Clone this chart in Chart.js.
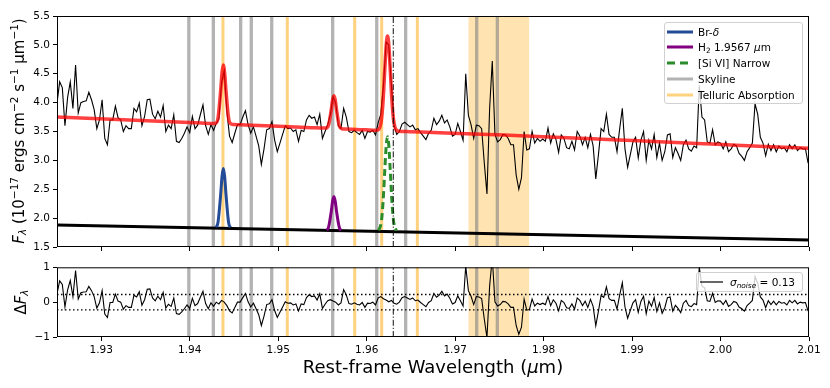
<!DOCTYPE html>
<html>
<head>
<meta charset="utf-8">
<script src="https://cdn.jsdelivr.net/npm/chart.js@4.4.0/dist/chart.umd.min.js"></script>
<style>
  body { margin: 0; background: #fff; }
  #wrap { position: relative; width: 830px; height: 388px; font-family: "DejaVu Sans", sans-serif; color: #000; overflow: hidden; }
  canvas { position: absolute; left: 0; }
  sub, sup { font-size: 0.7em; line-height: 0; }
  sub { vertical-align: -0.28em; }
  sup { vertical-align: 0.5em; }
  .ytitle { position: absolute; white-space: nowrap; transform: translate(-50%, -50%) rotate(-90deg); line-height: 1; }
  .legend { position: absolute; box-sizing: border-box; border: 1px solid #d0d0d0; border-radius: 3px; background: rgba(255,255,255,0.8); font-size: 10.5px; }
  .row { position: absolute; left: 0; height: 14px; display: flex; align-items: center; white-space: nowrap; }
  .row svg { position: absolute; left: 2px; top: 4px; }
  .row span { position: absolute; left: 33px; top: 0; line-height: 14px; }
</style>
</head>
<body>
<div id="wrap">
  <canvas id="topChart" width="830" height="258" style="top:0px"></canvas>
  <canvas id="botChart" width="830" height="130" style="top:258px"></canvas>

  <div class="ytitle" style="left:19px; top:131px; font-size:15px;"><i>F</i><sub><i>λ</i></sub> (10<sup>−17</sup> ergs cm<sup>−2</sup> s<sup>−1</sup> μm<sup>−1</sup>)</div>
  <div class="ytitle" style="left:21px; top:302px; font-size:15px;">Δ<i>F</i><sub><i>λ</i></sub></div>
  <div style="position:absolute; left:57px; width:752px; top:358px; text-align:center; font-size:18px; line-height:18px; white-space:nowrap;">Rest-frame Wavelength (<i>μ</i>m)</div>

  <div class="legend" style="left:664px; top:22px; width:139px; height:82px;">
    <div class="row" style="top:2px;"><svg width="26" height="6"><line x1="0" y1="3" x2="26" y2="3" stroke="#234b96" stroke-width="3"/></svg><span>Br-<i>δ</i></span></div>
    <div class="row" style="top:17px;"><svg width="26" height="6"><line x1="0" y1="3" x2="26" y2="3" stroke="#800080" stroke-width="3"/></svg><span>H<sub>2</sub> 1.9567 <i>μ</i>m</span></div>
    <div class="row" style="top:33px;"><svg width="26" height="6"><line x1="0" y1="3" x2="26" y2="3" stroke="#2a8c2a" stroke-width="3" stroke-dasharray="8,5"/></svg><span>[Si VI] Narrow</span></div>
    <div class="row" style="top:49px;"><svg width="26" height="6"><line x1="0" y1="3" x2="26" y2="3" stroke="rgba(128,128,128,0.6)" stroke-width="3"/></svg><span>Skyline</span></div>
    <div class="row" style="top:65px;"><svg width="26" height="6"><line x1="0" y1="3" x2="26" y2="3" stroke="rgba(255,165,0,0.5)" stroke-width="3"/></svg><span>Telluric Absorption</span></div>
  </div>

  <div class="legend" style="left:696px; top:272px; width:107px; height:20px;">
    <div class="row" style="top:2px;"><svg width="26" height="6" style="left:3px"><line x1="0" y1="3" x2="23" y2="3" stroke="#000" stroke-width="1.2"/></svg><span style="left:33px"><i>σ</i><sub><i>noise</i></sub> = 0.13</span></div>
  </div>
</div>

<script>
// ---------------- data ----------------
const WAVE_START = 1.925;     // first wavelength of the spectrum grid (micron)
const WAVE_STEP = 0.0003;     // spectral pixel size (micron)

// observed spectrum (1e-17 erg/cm2/s/um)
const flux = [
  3.99,4.36,4.26,3.6,4.09,4.36,3.9,4.65,3.82,4.0,
  4.02,4.03,4.18,4.05,3.88,3.55,3.7,4.05,3.38,3.27,
  3.7,3.7,3.94,3.74,3.7,3.5,3.6,3.55,3.55,3.9,
  3.84,3.99,3.6,3.76,4.05,4.06,3.8,3.72,3.85,3.75,
  3.95,3.5,3.61,3.55,3.79,3.33,3.31,3.38,3.47,3.58,
  3.48,3.76,3.55,3.61,3.79,3.96,3.6,3.45,3.62,3.52,
  3.64,3.72,4.35,4.55,3.85,3.42,3.31,3.47,3.62,3.62,
  3.75,3.86,3.62,3.47,3.58,3.42,3.25,2.93,3.2,3.53,
  3.55,3.67,3.35,3.15,3.3,3.45,3.6,3.55,3.56,3.5,
  3.53,3.33,3.52,3.5,3.7,3.78,3.73,3.75,3.62,3.8,
  3.38,3.5,3.62,3.8,4.1,4.0,3.6,3.55,3.9,3.75,
  3.5,3.48,3.52,3.48,3.45,3.52,3.38,3.5,3.49,3.52,
  3.44,3.65,3.8,4.3,5.05,5.0,4.3,3.6,3.45,3.5,
  3.63,3.66,3.62,3.58,3.61,3.53,3.55,3.48,3.42,3.36,
  3.47,3.52,3.73,3.62,3.68,3.78,3.65,3.7,3.58,3.42,
  3.45,3.64,3.5,3.35,4.5,3.78,3.62,3.38,3.61,3.6,
  3.55,2.95,2.42,3.9,4.72,3.45,3.32,3.36,3.45,3.44,
  3.38,3.27,3.27,2.75,2.5,2.7,3.5,3.18,3.2,3.5,
  3.3,3.38,3.33,3.37,3.33,3.56,3.3,3.46,3.36,3.14,
  3.44,3.38,3.22,3.2,3.33,3.18,3.5,3.42,3.27,3.4,
  3.22,3.45,3.25,2.68,3.1,3.55,3.5,3.8,3.45,3.4,
  3.4,3.15,3.55,3.9,3.2,2.88,3.1,3.32,3.4,3.04,
  3.35,3.5,3.0,3.35,3.2,3.45,3.05,3.3,3.0,3.15,
  3.44,3.46,3.05,3.22,3.12,3.0,3.27,3.35,3.2,3.16,
  3.25,3.22,4.3,3.75,3.7,3.32,3.3,3.53,3.27,3.32,
  3.3,3.2,3.32,3.15,3.2,3.28,3.25,3.12,3.07,3.0,
  3.15,3.22,3.3,3.98,3.8,3.4,3.3,3.08,3.28,3.17,
  3.27,3.15,3.25,3.2,3.22,3.15,3.27,3.2,3.27,3.17,
  3.22,3.2,3.2,2.95
];

// residuals (data - model) on the same grid
const resid = [
  0.24,0.61,0.51,-0.14,0.35,0.62,0.16,0.91,0.09,0.27,
  0.29,0.30,0.45,0.33,0.16,-0.17,-0.02,0.33,-0.34,-0.44,
  -0.01,-0.01,0.23,0.03,0.0,-0.2,-0.1,-0.15,-0.15,0.2,
  0.15,0.3,-0.09,0.07,0.37,0.38,0.12,0.04,0.17,0.07,
  0.28,-0.17,-0.06,-0.12,0.12,-0.33,-0.35,-0.28,-0.19,-0.08,
  -0.18,0.11,-0.1,-0.04,0.14,0.31,-0.04,-0.19,-0.02,-0.12,
  0.0,-0.05,0.05,0.0,-0.1,-0.25,-0.31,-0.15,0.0,0.0,
  0.13,0.25,0.01,-0.14,-0.03,-0.19,-0.36,-0.67,-0.4,-0.07,
  -0.05,0.07,-0.24,-0.44,-0.29,-0.14,0.01,-0.03,-0.02,-0.08,
  -0.05,-0.25,-0.05,-0.07,0.13,0.21,0.16,0.18,0.06,0.24,
  -0.18,-0.06,0.04,0.07,0.03,0.0,-0.08,-0.02,0.36,0.21,
  -0.04,-0.06,-0.02,-0.06,-0.08,-0.01,-0.15,-0.03,-0.04,0.0,
  -0.08,0.12,0.16,0.1,0.06,0.01,0.05,-0.03,-0.06,0.0,
  0.13,0.16,0.12,0.08,0.12,0.04,0.06,-0.01,-0.07,-0.13,
  -0.01,0.04,0.25,0.14,0.2,0.31,0.18,0.23,0.11,-0.05,
  -0.01,0.18,0.04,-0.11,1.04,0.33,0.17,-0.07,0.16,0.15,
  0.1,-0.49,-1.02,0.46,1.28,0.01,-0.11,-0.07,0.02,0.01,
  -0.05,-0.15,-0.15,-0.67,-0.92,-0.72,0.09,-0.23,-0.21,0.09,
  -0.11,-0.03,-0.07,-0.03,-0.07,0.16,-0.1,0.07,-0.03,-0.25,
  0.05,-0.01,-0.16,-0.18,-0.05,-0.2,0.12,0.05,-0.1,0.03,
  -0.15,0.08,-0.12,-0.68,-0.26,0.19,0.14,0.44,0.1,0.05,
  0.05,-0.2,0.2,0.56,-0.14,-0.46,-0.24,-0.02,0.07,-0.29,
  0.02,0.17,-0.33,0.03,-0.12,0.13,-0.27,-0.02,-0.32,-0.16,
  0.13,0.15,-0.26,-0.09,-0.18,-0.3,-0.03,0.05,-0.1,-0.13,
  -0.04,-0.07,1.0,0.46,0.41,0.04,0.02,0.25,-0.01,0.04,
  0.03,-0.07,0.05,-0.12,-0.07,0.02,-0.01,-0.14,-0.19,-0.26,
  -0.1,-0.03,0.05,0.73,0.55,0.15,0.06,-0.16,0.04,-0.07,
  0.03,-0.08,0.02,-0.03,-0.01,-0.08,0.05,-0.02,0.05,-0.05,
  0.0,-0.02,-0.01,-0.26
];

// total model (red)
const modelWave = [1.925,
  1.9413, 1.9426, 1.9429, 1.9432, 1.9435, 1.94365, 1.9438, 1.94395, 1.9441, 1.9444, 1.9447, 1.9450, 1.9463,
  1.9538, 1.9551, 1.9554, 1.9557, 1.9560, 1.95615, 1.9563, 1.95645, 1.9566, 1.9569, 1.9572, 1.9575, 1.9588,
  1.95986, 1.96106, 1.96136, 1.96166, 1.96186, 1.96206, 1.96221, 1.96236, 1.96251, 1.96266, 1.96286, 1.96306, 1.96336, 1.96366, 1.96486,
  2.01];
const modelFlux = [3.75,
  3.646, 3.638, 3.642, 3.734, 4.206, 4.514, 4.650, 4.512, 4.202, 3.726, 3.630, 3.622, 3.614,
  3.567, 3.559, 3.560, 3.612, 3.873, 4.046, 4.121, 4.044, 3.869, 3.604, 3.548, 3.543, 3.535,
  3.5285, 3.521, 3.536, 3.689, 4.036, 4.601, 4.993, 5.153, 4.991, 4.597, 4.030, 3.680, 3.523, 3.504, 3.497,
  3.21];

// continuum component (black)
const contWave = [1.925, 2.01];
const contFlux = [1.88, 1.62];

// line components
const brdWave = [1.9430, 1.9432, 1.9435, 1.94365, 1.9438, 1.94395, 1.9441, 1.9444, 1.9446];
const brdFlux = [1.84, 1.93, 2.41, 2.72, 2.86, 2.72, 2.41, 1.92, 1.84];
const h2Wave = [1.9555, 1.9557, 1.9560, 1.95615, 1.9563, 1.95645, 1.9566, 1.9569, 1.9571];
const h2Flux = [1.79, 1.845, 2.115, 2.29, 2.374, 2.29, 2.113, 1.843, 1.785];
const siviWave = [1.96136, 1.96166, 1.96186, 1.96206, 1.96221, 1.96236, 1.96251, 1.96266, 1.96286, 1.96306, 1.96336];
const siviFlux = [1.785, 1.94, 2.29, 2.86, 3.25, 3.41, 3.25, 2.85, 2.28, 1.93, 1.78];

// markers
const skylines = [1.9399, 1.94267, 1.94576, 1.94696, 1.94927, 1.95616, 1.96114, 1.96441, 1.97244, 1.97477];
const telluricLines = [1.94376, 1.95103, 1.95865, 1.9617, 1.96573];
const telluricBand = [1.97149, 1.97839];
const siviMarker = [1.96301];
const noiseBand = [-0.22, 0.22];

// axes
const xRange = [1.925, 2.01];
const xTicks = [1.93, 1.94, 1.95, 1.96, 1.97, 1.98, 1.99, 2.00, 2.01];
const topRange = [1.5, 5.5];
const topTicks = [1.5, 2.0, 2.5, 3.0, 3.5, 4.0, 4.5, 5.0, 5.5];
const botRange = [-1, 1];
const botTicks = [-1, 0, 1];

// ---------------- helpers ----------------
const FONT = { family: 'DejaVu Sans', size: 10.5 };
function pts(xs, ys) { return xs.map((x, i) => ({ x: x, y: ys[i] })); }
function gridPts(vals) { return vals.map((v, i) => ({ x: WAVE_START + WAVE_STEP * i, y: v })); }
function line(data, color, width, order, extra) {
  return Object.assign({ data: data, borderColor: color, borderWidth: width, pointRadius: 0,
    fill: false, order: order, clip: 0, tension: 0 }, extra || {});
}
function vline(w, range, color, width, order, extra) {
  return line([{ x: w, y: range[0] }, { x: w, y: range[1] }], color, width, order,
    Object.assign({ borderCapStyle: 'butt' }, extra || {}));
}
function band(b, range, color, order) {
  return { data: [{ x: b[0], y: range[1] }, { x: b[1], y: range[1] }], borderWidth: 0,
    borderColor: 'rgba(0,0,0,0)', backgroundColor: color, fill: 'start', pointRadius: 0, order: order, clip: 0 };
}
function markerSets(range) {
  const sets = [];
  siviMarker.forEach(w => sets.push(vline(w, range, '#111', 1, 0, { borderDash: [6, 2, 1.2, 2] })));
  skylines.forEach(w => sets.push(vline(w, range, 'rgba(128,128,128,0.6)', 3.3, 5)));
  telluricLines.forEach(w => sets.push(vline(w, range, 'rgba(255,165,0,0.5)', 3, 6)));
  sets.push(band(telluricBand, range, 'rgba(255,165,0,0.3)', 7));
  return sets;
}
const framePlugin = {
  id: 'frame',
  afterDatasetsDraw(chart) {
    const a = chart.chartArea, ctx = chart.ctx;
    ctx.save();
    ctx.strokeStyle = '#000';
    ctx.lineWidth = 1;
    ctx.strokeRect(a.left + 0.5, a.top + 0.5, a.right - a.left - 1, a.bottom - a.top - 1);
    ctx.restore();
  }
};
function makeChart(id, datasets, cfg) {
  return new Chart(document.getElementById(id), {
    type: 'line',
    data: { datasets: datasets },
    options: {
      responsive: false, animation: false, devicePixelRatio: 1, events: [],
      parsing: false,
      layout: { padding: { top: cfg.padTop, right: 21, left: 0, bottom: 0 } },
      plugins: { legend: { display: false }, tooltip: { enabled: false } },
      scales: {
        x: {
          type: 'linear', min: xRange[0], max: xRange[1],
          afterBuildTicks: s => { s.ticks = xTicks.map(v => ({ value: v })); },
          afterFit: s => { s.height = cfg.xHeight; },
          grid: { display: true, drawOnChartArea: false, drawTicks: true, tickLength: 4, color: '#000', tickWidth: 1 },
          border: { display: false },
          ticks: { display: true, autoSkip: false, maxRotation: 0, minRotation: 0, padding: 3, color: '#000', font: FONT,
            callback: v => cfg.xLabels ? Number(v).toFixed(2) : '' }
        },
        y: {
          type: 'linear', min: cfg.range[0], max: cfg.range[1],
          afterBuildTicks: s => { s.ticks = cfg.ticks.map(v => ({ value: v })); },
          afterFit: s => { s.width = 57; },
          grid: { display: true, drawOnChartArea: false, drawTicks: true, tickLength: 4, color: '#000', tickWidth: 1 },
          border: { display: false },
          ticks: { autoSkip: false, padding: 3, color: '#000', font: FONT, callback: cfg.fmt }
        }
      }
    },
    plugins: [framePlugin]
  });
}

// ---------------- top panel ----------------
const topSets = [
  line(pts(modelWave, modelFlux), 'rgba(255,0,0,0.75)', 3.5, 1, { cubicInterpolationMode: 'monotone' }),
  line(pts(brdWave, brdFlux), '#234b96', 3, 2, { cubicInterpolationMode: 'monotone' }),
  line(pts(h2Wave, h2Flux), '#800080', 3, 2, { cubicInterpolationMode: 'monotone' }),
  line(pts(siviWave, siviFlux), '#2a8c2a', 3, 2, { cubicInterpolationMode: 'monotone', borderDash: [7, 4] }),
  line(gridPts(flux), '#000', 1.1, 3),
  line(pts(contWave, contFlux), '#000', 3, 4)
].concat(markerSets(topRange));

makeChart('topChart', topSets, {
  padTop: 16, xHeight: 11, xLabels: false, range: topRange, ticks: topTicks,
  fmt: v => Number(v).toFixed(1)
});

// ---------------- bottom panel ----------------
const botSets = [
  line(gridPts(resid), '#000', 1.1, 3),
  line([{ x: xRange[0], y: noiseBand[1] }, { x: xRange[1], y: noiseBand[1] }], '#000', 1.3, 4, { borderDash: [1.5, 2.5] }),
  line([{ x: xRange[0], y: noiseBand[0] }, { x: xRange[1], y: noiseBand[0] }], '#000', 1.3, 4, { borderDash: [1.5, 2.5] })
].concat(markerSets(botRange));

makeChart('botChart', botSets, {
  padTop: 9, xHeight: 51, xLabels: true, range: botRange, ticks: botTicks,
  fmt: v => (v < 0 ? '−' + Math.abs(v) : String(v))
});
</script>
</body>
</html>
